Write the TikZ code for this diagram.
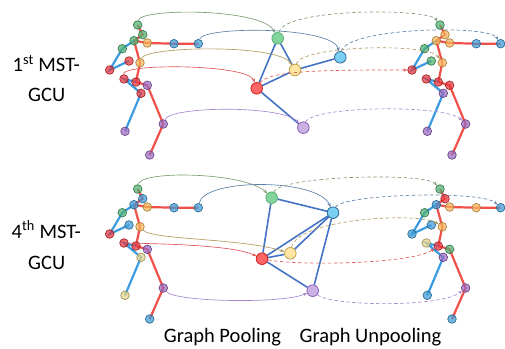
\documentclass[tikz,border=0pt]{standalone}
\usepackage{fontspec}
\setmainfont{Carlito}
\usetikzlibrary{arrows.meta,backgrounds}

% joint colours of the skeletons
\definecolor{jG}{HTML}{4FB06F}
\definecolor{jB}{HTML}{3D9AD6}
\definecolor{jO}{HTML}{F7B656}
\definecolor{jR}{HTML}{E8353B}
\definecolor{jP}{HTML}{9A68C2}
\definecolor{jY}{HTML}{E6D288}
% pooled graph nodes
\definecolor{mG}{HTML}{80D49C}\definecolor{mGd}{HTML}{5AAE75}
\definecolor{mB}{HTML}{7ACFF2}\definecolor{mBd}{HTML}{2D6A96}
\definecolor{mY}{HTML}{FFE6A3}\definecolor{mYd}{HTML}{BFA04A}
\definecolor{mR}{HTML}{FF6666}\definecolor{mRd}{HTML}{D01F1F}
\definecolor{mP}{HTML}{CBB0E3}\definecolor{mPd}{HTML}{8A5DB8}
% bones, graph edges and links
\definecolor{cBoneR}{HTML}{F0504A}
\definecolor{cBoneB}{HTML}{3A9BE0}
\definecolor{cEdge}{HTML}{4472C4}
\definecolor{aG}{HTML}{7E9C72}
\definecolor{aB}{HTML}{5A7FA8}
\definecolor{aO}{HTML}{B09A5C}
\definecolor{aR}{HTML}{E05555}
\definecolor{aP}{HTML}{A587CF}

\tikzset{
  jt/.style={circle,inner sep=0pt,minimum size=8.6pt,line width=0.7pt,
    draw=#1!70!black,fill=#1,fill opacity=0.72},
  pooled/.style 2 args={circle,inner sep=0pt,minimum size=11.6pt,
    line width=0.8pt,draw=#2,fill=#1},
  boneR/.style={draw=cBoneR,line width=2.2pt},
  boneB/.style={draw=cBoneB,line width=2.2pt},
  gedge/.style={draw=cEdge,line width=1.6pt},
  link/.style={draw=#1,line width=0.65pt,-{Stealth[length=4pt,width=3.2pt]}},
  back/.style={link=#1,dash pattern=on 3.5pt off 2.5pt},
  lbl/.style={font=\fontsize{20.5}{24}\selectfont,anchor=base,inner sep=0pt}
}

% one skeleton: name prefix, x shift, y shift, joint/colour list
\newcommand\skeleton[4]{%
  \foreach \j/\c in {#4}
    \node[jt=\c] (#1\j) at ([shift={(#2,#3)}]J\j) {};
  \begin{pgfonlayer}{background}
    \draw[boneR] (#1hd.center) -- (#1nk.center) -- (#1th.center) -- (#1sp.center)
      -- (#1pv.center) -- (#1rh.center) -- (#1rk.center) -- (#1rf.center);
    \draw[boneR] (#1th.center) -- (#1rs.center) -- (#1re.center) -- (#1rw.center);
    \draw[boneB] (#1th.center) -- (#1ls.center) -- (#1le.center) -- (#1lw.center);
    \draw[boneB] (#1pv.center) -- (#1lh.center) -- (#1lk.center) -- (#1lf.center);
  \end{pgfonlayer}
}

\begin{document}
\begin{tikzpicture}[x=1pt,y=-1pt]
\useasboundingbox (0,0) rectangle (505,348);

% reference joint positions
\foreach \j/\px/\py in {hd/137.7/25, nk/142.7/34.7, th/134/40.7, rs/147.3/43,
    re/174/43.7, rw/198.3/43.7, ls/122.3/48.7, lw/129/61, sp/140/62.7,
    le/109.7/70, lh/124/79, pv/136/82, rh/147.3/85.3, lk/141/93.3,
    rk/163.3/124, lf/125/131.3, rf/149.7/155}
  \coordinate (J\j) at (\px,\py);

% skeletons
\skeleton{L1}{0}{0}{hd/jG, nk/jG, th/jG, rs/jO, re/jB, rw/jB, ls/jG, lw/jR, sp/jO,
  le/jR, lh/jR, pv/jR, rh/jP, lk/jR, rk/jP, lf/jP, rf/jP}
\skeleton{R1}{302.3}{0}{hd/jG, nk/jO, th/jO, rs/jO, re/jB, rw/jB, ls/jG, lw/jG, sp/jO,
  le/jR, lh/jR, pv/jR, rh/jR, lk/jP, rk/jP, lf/jP, rf/jP}
\skeleton{L2}{0}{164}{hd/jG, nk/jB, th/jB, rs/jO, re/jB, rw/jB, ls/jG, lw/jB, sp/jO,
  le/jR, lh/jR, pv/jR, rh/jP, lk/jY, rk/jP, lf/jY, rf/jB}
\skeleton{R2}{302.3}{164}{hd/jG, nk/jR, th/jB, rs/jO, re/jO, rw/jB, ls/jG, lw/jB, sp/jO,
  le/jB, lh/jY, pv/jR, rh/jG, lk/jP, rk/jP, lf/jB, rf/jB}

% pooled graphs
\node[pooled={mG}{mGd}] (M1g) at (277.7,38.3) {};
\node[pooled={mB}{mBd}] (M1b) at (340.3,57.3) {};
\node[pooled={mY}{mYd}] (M1y) at (295,70) {};
\node[pooled={mR}{mRd}] (M1r) at (256.7,88.3) {};
\node[pooled={mP}{mPd}] (M1p) at (303.3,127.7) {};

\node[pooled={mG}{mGd}] (M2g) at (271.7,197.7) {};
\node[pooled={mB}{mBd}] (M2b) at (333,212.7) {};
\node[pooled={mY}{mYd}] (M2y) at (290.3,253.3) {};
\node[pooled={mR}{mRd}] (M2r) at (262,258.7) {};
\node[pooled={mP}{mPd}] (M2p) at (312.7,290.7) {};

\begin{pgfonlayer}{background}
  \draw[gedge] (M1g) -- (M1r);
  \draw[gedge] (M1g) -- (M1y);
  \draw[gedge] (M1y) -- (M1b);
  \draw[gedge] (M1r) -- (M1y);
  \draw[gedge] (M1r) -- (M1p);

  \draw[gedge] (M2g) -- (M2b);
  \draw[gedge] (M2g) -- (M2r);
  \draw[gedge] (M2r) -- (M2b);
  \draw[gedge] (M2y) -- (M2b);
  \draw[gedge] (M2r) -- (M2y);
  \draw[gedge] (M2r) -- (M2p);
  \draw[gedge] (M2b) -- (M2p);
\end{pgfonlayer}

% pooling links, first block
\draw[link=aG] (L1hd) .. controls (140,8) and (262,8) .. (M1g);
\draw[link=aB] (L1rw) .. controls (203,26) and (333,26) .. (M1b);
\draw[link=aO] (L1sp) .. controls (146,46) and (278,44) .. (M1y);
\draw[link=aR] (L1lh) .. controls (122,63) and (248,64) .. (M1r);
\draw[link=aP] (L1rk) .. controls (170,106) and (282,105) .. (M1p);
% unpooling links, first block
\draw[back=aG] (M1g) .. controls (284,8) and (428,8) .. (R1hd);
\draw[back=aB] (M1b) .. controls (346,28) and (488,24) .. (R1rw);
\draw[back=aO] (M1y) .. controls (300,46) and (428,42) .. (R1sp);
\draw[back=aR] (M1r) .. controls (268,70) and (330,70) .. (R1le);
\draw[back=aP] (M1p) .. controls (312,106) and (445,104) .. (R1rk);

% pooling links, fourth block
\draw[link=aG] (L2hd) .. controls (140,170) and (245,172) .. (M2g);
\draw[link=aB] (L2rw) .. controls (204,178) and (318,178) .. (M2b);
\draw[link=aO] (L2sp) .. controls (152,240) and (240,238) .. (M2y);
\draw[link=aR] (L2lh) .. controls (175,244) and (235,246) .. (M2r);
\draw[link=aP] (L2rk) .. controls (175,302) and (282,304) .. (M2p);
% unpooling links, fourth block
\draw[back=aG] (M2g) .. controls (280,176) and (425,172) .. (R2hd);
\draw[back=aB] (M2b) .. controls (342,194) and (482,190) .. (R2rw);
\draw[back=aO] (M2y) .. controls (298,218) and (420,212) .. (R2sp);
\draw[back=aR] (M2r) .. controls (300,266) and (412,264) .. (R2pv);
\draw[back=aP] (M2p) .. controls (330,306) and (440,308) .. (R2rk);

% labels
\node[lbl] (t1a) at (46.3,71.7) {1\textsuperscript{st} MST-};
\node[lbl] (t1b) at (46.7,101.7) {GCU};
\node[lbl] (t4a) at (46.3,238.3) {4\textsuperscript{th} MST-};
\node[lbl] (t4b) at (46.7,269.5) {GCU};
\node[lbl] (tp) at (222.5,342.8) {Graph Pooling};
\node[lbl] (tu) at (370.5,342.8) {Graph Unpooling};
\end{tikzpicture}
\end{document}
